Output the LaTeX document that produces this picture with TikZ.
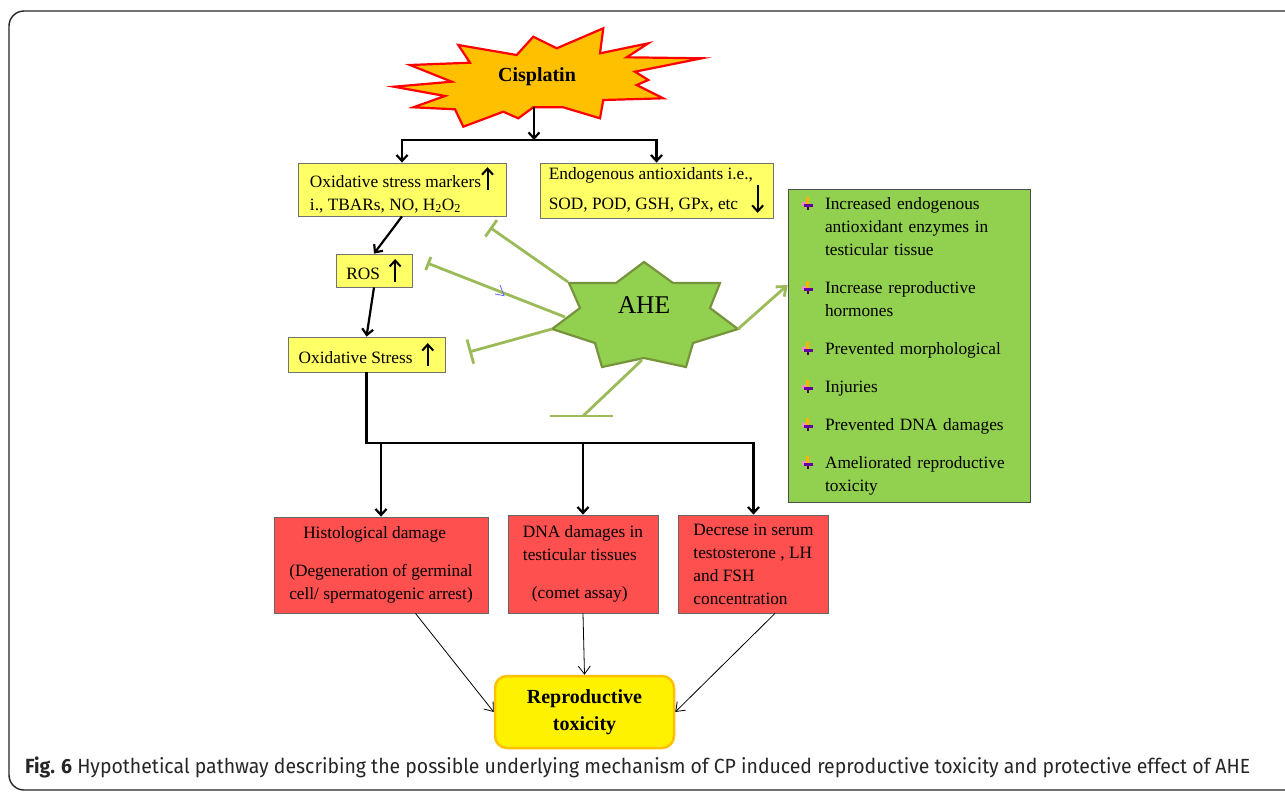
\documentclass[tikz,border=0pt]{standalone}
\usepackage{fontspec}
\setmainfont{Liberation Serif}
\newfontfamily\capfont{Fira Sans}
\usetikzlibrary{arrows.meta,positioning,calc}

\definecolor{boxyellow}{HTML}{FFFF66}
\definecolor{boxred}{HTML}{FF5050}
\definecolor{boxgreen}{HTML}{92D050}
\definecolor{stargreen}{HTML}{77933C}
\definecolor{inhibgreen}{HTML}{9BBB59}
\definecolor{burstorange}{HTML}{FFC000}
\definecolor{reporange}{HTML}{FFC000}

\newcommand{\upa}{\tikz[baseline=0pt]\draw[draw=black,line width=2pt,-{Straight Barb[length=6pt,width=11pt]}] (0pt,-3pt) -- (0pt,20pt);}
\newcommand{\dna}{\tikz[baseline=0pt]\draw[draw=black,line width=2pt,-{Straight Barb[length=6pt,width=11pt]}] (0pt,25pt) -- (0pt,-3pt);}
\newcommand{\bul}{\tikz[baseline=-1pt]{%
  \fill[orange!60!yellow] (3.5pt,4pt) rectangle (6.5pt,11pt);
  \fill[magenta!45] (0pt,2pt) rectangle (3.5pt,6pt);
  \fill[violet!75!blue] (1.5pt,1pt) rectangle (11pt,4.5pt);
  \fill[violet!60!black] (4.5pt,-2pt) rectangle (6.5pt,1pt);}}

\begin{document}
\begin{tikzpicture}[x=1pt, y=-1pt,
    every node/.style={font=\fontsize{17.3}{23}\selectfont, inner sep=0pt},
    ybox/.style={draw=black!55, fill=boxyellow, align=left, line width=0.8pt},
    rbox/.style={draw=black!60, fill=boxred, align=left, line width=0.8pt},
    arr/.style={line width=2.2pt, -{Straight Barb[length=6pt,width=11pt]}},
    thinarr/.style={line width=0.8pt, -{Straight Barb[length=8pt,width=12pt]}},
    inhib/.style={draw=inhibgreen, line width=2.8pt, -{Bar[width=#1,line width=2.8pt]}},
    inhib/.default=20pt]
  \clip (0,0) rectangle (1285,793);
  \fill[white] (0,0) rectangle (1285,793);
  \draw[line width=1.4pt, black!85, rounded corners=15pt] (9,11) rectangle (1310,790);

  \filldraw[fill=burstorange, draw=red, line width=2.2pt, line join=miter]
    (394,86.7) -- (451.7,81.7) -- (410,65) -- (470,62.7) -- (458.3,45) -- (516.7,55)
    -- (533.3,36.7) -- (556.7,48.3) -- (603.3,28.3) -- (600,53.3) -- (648.3,43.3)
    -- (626.7,57.3) -- (701.7,58.3) -- (635,71.7) -- (648.3,80) -- (636.7,85)
    -- (663.3,98.3) -- (603.3,100) -- (600,118.3) -- (563.3,107.3) -- (533.3,107.3)
    -- (518.3,118.3) -- (503.3,111.7) -- (463.3,126.7) -- (455,109.3) -- (413.3,107.3)
    -- (445,96) -- cycle;
  \node[font=\fontsize{20}{24}\selectfont\bfseries] (cis) at (537,77) {Cisplatin};
  \coordinate (cisb) at (534,107.3);
  \coordinate (split) at (534,140);

  \node[ybox, minimum width=208pt, minimum height=53pt] (oxm) at (402,189.5)
    {Oxidative stress markers\upa\\ i., TBARs, NO, H\textsubscript{2}O\textsubscript{2}};
  \node[ybox, minimum width=233pt, minimum height=55pt] (endo) at (656.5,190.5)
    {Endogenous antioxidants i.e.,\\ SOD, POD, GSH, GPx, etc\ \ \ \dna};
  \node[ybox, minimum width=76pt, minimum height=33pt] (ros) at (374,270.5) {ROS\ \ \upa};
  \node[ybox, minimum width=157pt, minimum height=35pt] (os) at (366.5,354.5) {Oxidative Stress\ \ \upa};

  \draw[arr] (cisb) -- (split);
  \draw[arr] (split) -| (oxm);
  \draw[arr] (split) -| (endo);
  \draw[arr] (oxm.south) -- (ros.north);
  \draw[arr] (ros.south) -- (os.north);

  \node[rbox, minimum width=214pt, minimum height=96pt] (hist) at (381,565)
    {\hspace*{14pt}Histological damage\\[15pt] (Degeneration of germinal\\ cell/ spermatogenic arrest)};
  \node[rbox, minimum width=150pt, minimum height=98pt] (dna) at (583,564)
    {DNA damages in\\ testicular tissues\\[15pt] \hspace*{9pt}(comet assay)};
  \node[rbox, minimum width=150pt, minimum height=98pt] (dec) at (753.5,564)
    {Decrese in serum\\ testosterone , LH\\ and FSH\\ concentration};

  \coordinate (jn) at (366.5,443);
  \draw[arr] (os.south) -- (jn) -| (dec.north);
  \draw[arr] (hist.north |- jn) -- (hist.north);
  \draw[arr] (dna.north |- jn) -- (dna.north);

  \node[draw=reporange, fill=yellow, line width=2.5pt, rounded corners=12pt,
    minimum width=179pt, minimum height=72pt, align=center,
    font=\fontsize{20}{27}\selectfont\bfseries] (repro) at (584.5,712) {Reproductive\\ toxicity};
  \draw[thinarr] ([xshift=34.5pt]hist.south) -- (repro.west);
  \draw[thinarr] (dna.south) -- (repro.north);
  \draw[thinarr] ([xshift=21.5pt]dec.south) -- (repro.east);

  \node[draw=black!70, fill=boxgreen, line width=0.8pt, minimum height=313pt,
    text width=214pt, inner xsep=14pt, align=left] (eff) at (909,345.5)
    {\begin{tabular}{@{}l@{\hspace{12pt}}l@{}}
      \bul & Increased endogenous\\
           & antioxidant enzymes in\\
           & testicular tissue\\[15pt]
      \bul & Increase reproductive\\
           & hormones\\[15pt]
      \bul & Prevented morphological\\[15pt]
      \bul & Injuries\\[15pt]
      \bul & Prevented DNA damages\\[15pt]
      \bul & Ameliorated reproductive\\
           & toxicity
     \end{tabular}};

  \filldraw[fill=boxgreen, draw=stargreen, line width=2.2pt, line join=miter]
    (644,262) -- (673,283) -- (720,283) -- (710,308) -- (738,329) -- (693,343)
    -- (686,367) -- (644,358) -- (602,367) -- (595,343) -- (552,329) -- (580,308)
    -- (569,283) -- (616,283) -- cycle;
  \node[font=\fontsize{25.5}{30}\selectfont] (ahe) at (644,305) {AHE};
  \coordinate (ahe-nw) at (568,282);
  \coordinate (ahe-w) at (565,317);
  \coordinate (ahe-sw) at (552,329);
  \coordinate (ahe-s) at (642,360);
  \coordinate (ahe-e) at (738,329);
  \coordinate (stop-oxm) at (490,227.5);
  \coordinate (stop-ros) at (427,263);
  \coordinate (stop-os) at (469,352);
  \coordinate (stop-low) at (583,416);

  \draw[inhib] (ahe-nw) -- (stop-oxm);
  \draw[inhib=14pt] (ahe-w) -- (stop-ros);
  \draw[inhib=25pt] (ahe-sw) -- (stop-os);
  \draw[draw=inhibgreen, line width=2.8pt] (ahe-s) -- (stop-low);
  \draw[draw=inhibgreen, line width=2.8pt] ([xshift=-33pt]stop-low) -- ([xshift=30pt]stop-low);
  \draw[draw=blue!60, line width=0.8pt] (495,294) -- (504,295.7) -- (500,285);
  \draw[draw=inhibgreen, line width=2.8pt, -{Straight Barb[length=8pt,width=13pt]}] (ahe-e) -- (eff.west |- 0,285);

  \node[anchor=base west, text=black!85, font=\capfont\fontsize{20.5}{24}\selectfont] (cap) at (25,773)
    {\resizebox{1225pt}{\height}{\textbf{Fig. 6} Hypothetical pathway describing the possible underlying mechanism of CP induced reproductive toxicity and protective effect of AHE}};
\end{tikzpicture}
\end{document}
